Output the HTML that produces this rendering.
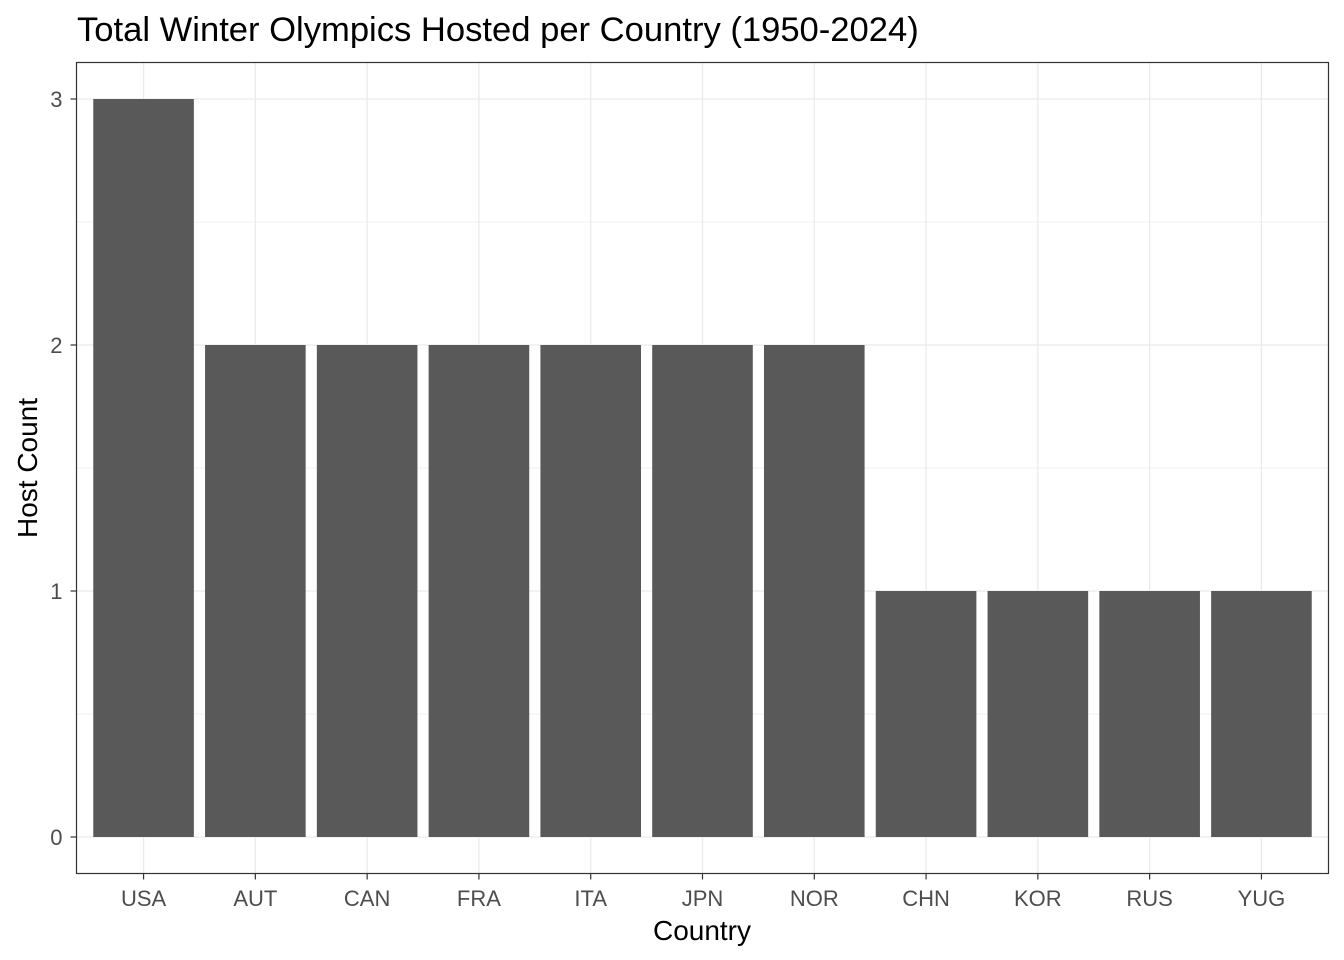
<!DOCTYPE html>
<html><head><meta charset="utf-8"><style>
body{margin:0;background:#fff;}
svg{display:block;font-family:"Liberation Sans",Arial,sans-serif;}
</style></head><body>
<svg id="chart" width="1344" height="960">
<text x="77" y="41" font-size="34.6" fill="#000">Total Winter Olympics Hosted per Country (1950-2024)</text>
<g id="grid"></g><g id="bars"></g><g id="axes"></g>
<text x="702" y="940" font-size="28" text-anchor="middle" fill="#000">Country</text>
<text transform="translate(37,468) rotate(-90)" font-size="28" text-anchor="middle" fill="#000">Host Count</text>
</svg>
<script>
const categories=["USA","AUT","CAN","FRA","ITA","JPN","NOR","CHN","KOR","RUS","YUG"];
const values=[3,2,2,2,2,2,2,1,1,1,1];
const yTicks=[0,1,2,3];
const NS="http://www.w3.org/2000/svg";
const L=76.5,R=1328.5,T=62.5,B=873.5;
const step=(R-L)/(categories.length-1+1.2);
const xs=i=>L+step*(0.6+i);
const y0=837,y3=99;
const ys=v=>y0+(y3-y0)*v/3;
function mk(tag,attrs,parent){const e=document.createElementNS(NS,tag);for(const k in attrs)e.setAttribute(k,attrs[k]);document.getElementById(parent).appendChild(e);return e;}
for(let v=-0.5;v<=3.5;v+=1){const y=ys(v);if(y>T&&y<B){const g=mk('line',{x1:L,x2:R,y1:y,y2:y,stroke:'#ebebeb','stroke-width':0.8},'grid');

}}
yTicks.forEach(v=>{const g=mk('line',{x1:L,x2:R,y1:ys(v),y2:ys(v),stroke:'#ebebeb','stroke-width':1.3},'grid');


const t=mk('line',{x1:L-6,x2:L,y1:ys(v),y2:ys(v),stroke:'#333','stroke-width':1.2},'axes');


const lb=mk('text',{x:L-14,y:ys(v)+8,'font-size':22,'text-anchor':'end',fill:'#4d4d4d'},'axes');lb.textContent=v;

});
const bw=step*0.9;
categories.forEach((c,i)=>{const x=xs(i);
const g=mk('line',{x1:x,x2:x,y1:T,y2:B,stroke:'#ebebeb','stroke-width':1.3},'grid');


const b=mk('rect',{x:x-bw/2,y:ys(values[i]),width:bw,height:y0-ys(values[i]),fill:'#595959'},'bars');


const t=mk('line',{x1:x,x2:x,y1:B,y2:B+6,stroke:'#333','stroke-width':1.2},'axes');


const lb=mk('text',{x:x,y:906,'font-size':22,'text-anchor':'middle',fill:'#4d4d4d'},'axes');lb.textContent=c;

});
const p=mk('rect',{x:L,y:T,width:R-L,height:B-T,fill:'none',stroke:'#333','stroke-width':1.2},'axes');


</script>
</body></html>
